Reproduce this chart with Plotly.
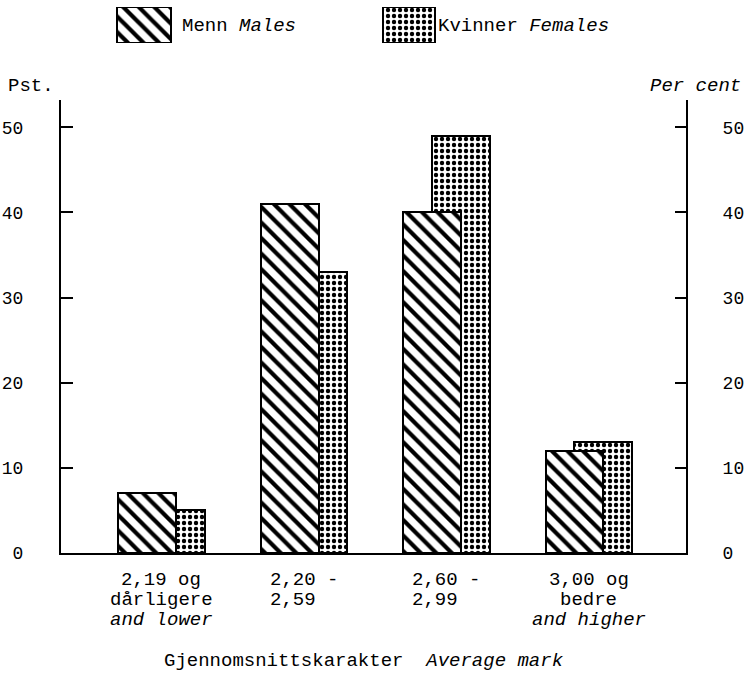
import plotly.graph_objects as go

# ---- data ----
categories = [0, 1, 2, 3]
cat_line1 = ["2,19 og", "2,20 -", "2,60 -", "3,00 og"]
cat_line2 = ["dårligere", "2,59\u00a0\u00a0", "2,99\u00a0\u00a0", "bedre"]
cat_line3 = ["and lower", "", "", "and higher"]
male = [7, 41, 40, 12]
female = [5, 33, 49, 13]
y_ticks = [0, 10, 20, 30, 40, 50]

FONT = "Liberation Mono"
FS = 19
TFS = 18

# ---- layout geometry (pixels of the 746x676 page) ----
W, H = 746, 676
ML, MR, MT, MB = 61, 60, 5, 123
PW = W - ML - MR
PH = H - MT - MB
def py(ypix):  # page y pixel -> paper y
    return (H - MB - ypix) / PH
def px(xpix):  # page x pixel -> paper x
    return (xpix - ML) / PW

main_top = py(100)

bar_w = 0.407
male_off = -0.305
female_off = -0.102

male_pattern = dict(shape="\\", fgcolor="black", bgcolor="white", size=11, solidity=0.38,
                    fgopacity=1)
female_pattern = dict(shape=".", fgcolor="black", bgcolor="white", size=6, solidity=0.42,
                      fgopacity=1)

fig = go.Figure()

fig.add_trace(go.Bar(
    x=categories, y=female, name="Kvinner Females",
    width=bar_w, offset=female_off,
    marker=dict(color="white", pattern=female_pattern, line=dict(color="black", width=2)),
    showlegend=False, hoverinfo="y",
))
fig.add_trace(go.Bar(
    x=categories, y=male, name="Menn Males",
    width=bar_w, offset=male_off,
    marker=dict(color="white", pattern=male_pattern, line=dict(color="black", width=2)),
    showlegend=False, hoverinfo="y",
))
# invisible trace to carry the right-hand axis
fig.add_trace(go.Scatter(
    x=categories, y=female, mode="markers", marker=dict(opacity=0),
    yaxis="y3", showlegend=False, hoverinfo="skip",
))

# ---- legend keys drawn on a small helper axis (pixel units) ----
legend_x = [144, 409]
legend_w = [54, 52]
fig.add_trace(go.Bar(
    x=[legend_x[0]], y=[1], base=0, width=legend_w[0], xaxis="x2", yaxis="y2",
    marker=dict(color="white", pattern=male_pattern, line=dict(color="black", width=2)),
    showlegend=False, hoverinfo="skip",
))
fig.add_trace(go.Bar(
    x=[legend_x[1]], y=[1], base=0, width=legend_w[1], xaxis="x2", yaxis="y2",
    marker=dict(color="white", pattern=female_pattern, line=dict(color="black", width=2)),
    showlegend=False, hoverinfo="skip",
))

axis_common = dict(showgrid=False, zeroline=False, linecolor="black", linewidth=2,
                   automargin=False)

fig.update_layout(
    width=W, height=H,
    margin=dict(l=ML, r=MR, t=MT, b=MB, pad=0, autoexpand=False),
    paper_bgcolor="white", plot_bgcolor="white",
    barmode="overlay", bargap=0,
    font=dict(family=FONT, size=FS, color="black"),
    xaxis=dict(range=[-0.705, 3.681], showline=True, ticks="", showticklabels=False,
               fixedrange=True, **axis_common),
    yaxis=dict(range=[0, 53.2], domain=[0, main_top], showline=True,
               tickvals=y_ticks, ticks="inside", ticklen=12, tickwidth=2, tickcolor="black",
               ticklabelstandoff=32, tickfont=dict(family=FONT, size=TFS), **axis_common),
    yaxis3=dict(range=[0, 53.2], overlaying="y", side="right", anchor="x", showline=True,
                tickvals=y_ticks, ticks="inside", ticklen=11, tickwidth=2, tickcolor="black",
                ticklabelstandoff=31, tickfont=dict(family=FONT, size=TFS), **axis_common),
    xaxis2=dict(domain=[0, 1], anchor="y2", range=[ML, W - MR], visible=False, automargin=False),
    yaxis2=dict(domain=[py(43), py(7)], anchor="x2", range=[0, 1], visible=False, automargin=False),
)

ann = []
ann.append(dict(text="Pst.", xref="paper", yref="paper", x=px(6), y=py(86),
                xanchor="left", yanchor="middle", showarrow=False))
ann.append(dict(text="<i>Per cent</i>", xref="paper", yref="paper", x=px(743), y=py(86),
                xanchor="right", yanchor="middle", showarrow=False))
ann.append(dict(text="Menn <i>Males</i>", xref="paper", yref="paper", x=px(180), y=py(26),
                xanchor="left", yanchor="middle", showarrow=False))
ann.append(dict(text="Kvinner <i>Females</i>", xref="paper", yref="paper", x=px(436), y=py(26),
                xanchor="left", yanchor="middle", showarrow=False))
for i, c in enumerate(categories):
    for txt, ypix, it in ((cat_line1[i], 580, False), (cat_line2[i], 600, False),
                          (cat_line3[i], 620, True)):
        if not txt:
            continue
        ann.append(dict(text=f"<i>{txt}</i>" if it else txt, xref="x", yref="paper",
                        x=c, y=py(ypix), xanchor="center", yanchor="middle",
                        showarrow=False))
ann.append(dict(text="Gjennomsnittskarakter  <i>Average mark</i>", xref="paper", yref="paper",
                x=px(364), y=py(661), xanchor="center", yanchor="middle", showarrow=False))
fig.update_layout(annotations=ann)

fig.write_html(
    "out.html",
    config={"displayModeBar": False},
    post_script="document.body.style.margin='0';document.body.style.padding='0';",
)
